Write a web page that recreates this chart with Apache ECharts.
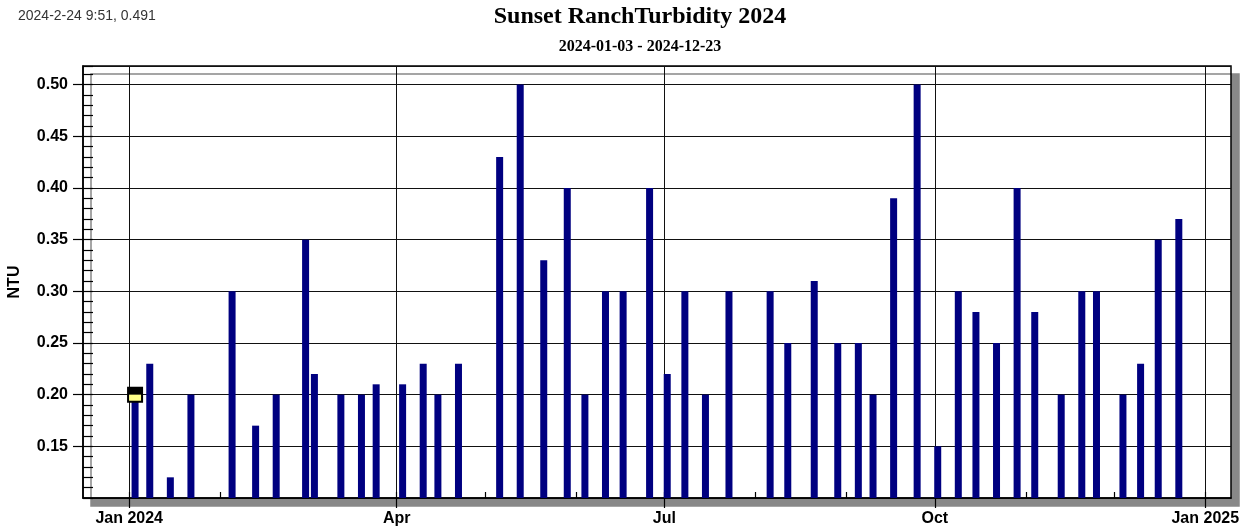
<!DOCTYPE html>
<html>
<head>
<meta charset="utf-8">
<script src="https://cdn.jsdelivr.net/npm/echarts@6/dist/echarts.min.js"></script>
<style>
html,body{margin:0;padding:0;background:#fff;}
#chart{width:1248px;height:532px;}
</style>
</head>
<body>
<div id="chart"></div>
<script>
// ---- data ----
const sampleDates = ['2024-01-03','2024-01-08','2024-01-15','2024-01-22','2024-02-05','2024-02-13','2024-02-20','2024-03-01','2024-03-04','2024-03-13','2024-03-20','2024-03-25','2024-04-03','2024-04-10','2024-04-15','2024-04-22','2024-05-06','2024-05-13','2024-05-21','2024-05-29','2024-06-04','2024-06-11','2024-06-17','2024-06-26','2024-07-02','2024-07-08','2024-07-15','2024-07-23','2024-08-06','2024-08-12','2024-08-21','2024-08-29','2024-09-05','2024-09-10','2024-09-17','2024-09-25','2024-10-02','2024-10-09','2024-10-15','2024-10-22','2024-10-29','2024-11-04','2024-11-13','2024-11-20','2024-11-25','2024-12-04','2024-12-10','2024-12-16','2024-12-23'];
const turbidity = [0.20,0.23,0.12,0.20,0.30,0.17,0.20,0.35,0.22,0.20,0.20,0.21,0.21,0.23,0.20,0.23,0.43,0.50,0.33,0.40,0.20,0.30,0.30,0.40,0.22,0.30,0.20,0.30,0.30,0.25,0.31,0.25,0.25,0.20,0.39,0.50,0.15,0.30,0.28,0.25,0.40,0.28,0.20,0.30,0.30,0.20,0.23,0.35,0.37];
const xTickDates = ['2024-01-01','2024-04-01','2024-07-01','2024-10-01','2025-01-01'];
const xTickLabels = ['Jan 2024','Apr','Jul','Oct','Jan 2025'];
const monthStarts = ['2024-01-01','2024-02-01','2024-03-01','2024-04-01','2024-05-01','2024-06-01','2024-07-01','2024-08-01','2024-09-01','2024-10-01','2024-11-01','2024-12-01','2025-01-01'];
const xMin = '2023-12-16 07:00';
const xMax = '2025-01-09 18:00';
const yMin = 0.10, yMax = 0.518, yMajor = 0.05, yMinor = 0.01;
const titleText = 'Sunset RanchTurbidity 2024';
const subTitleText = '2024-01-03 - 2024-12-23';
const cursorText = '2024-2-24 9:51, 0.491';
const yName = 'NTU';

// ---- chart ----
const chart = echarts.init(document.getElementById('chart'), null, {renderer:'canvas'});
const parse = v => +echarts.time.parse(v);
const tickTs = xTickDates.map(parse);
const monthTs = monthStarts.map(parse);
const seriesData = sampleDates.map((d, i) => [parse(d), turbidity[i]]);
const xMinTs = parse(xMin), xMaxTs = parse(xMax);
const sans = '"Liberation Sans", Arial, sans-serif';
const serif = '"Liberation Serif", "Times New Roman", serif';

const option = {
  animation: false,
  backgroundColor: '#fff',
  grid: {
    left: 83, top: 66, right: 17, bottom: 34,
    outerBoundsMode: 'none',
    show: true,
    backgroundColor: '#fff',
    borderColor: '#000',
    borderWidth: 1.5,
    shadowColor: '#888',
    shadowBlur: 0,
    shadowOffsetX: 8,
    shadowOffsetY: 8
  },
  graphic: [
    {type:'text', x:640, y:17, style:{text:titleText, font:'bold 24px ' + serif, fill:'#000', align:'center', verticalAlign:'middle'}},
    {type:'text', x:640, y:47, style:{text:subTitleText, font:'bold 16px ' + serif, fill:'#000', align:'center', verticalAlign:'middle'}},
    {type:'text', x:18, y:16, style:{text:cursorText, font:'14px ' + sans, fill:'#333', align:'left', verticalAlign:'middle'}}
  ],
  xAxis: [
    {
      type: 'value', position: 'bottom', min: xMinTs, max: xMaxTs,
      axisLine: {show: true, lineStyle: {color: '#000', width: 1.5}},
      axisTick: {show: true, inside: false, length: 10, lineStyle: {color: '#000', width: 1.2}, customValues: tickTs},
      axisLabel: {
        show: true, customValues: tickTs, margin: 13,
        color: '#000', fontSize: 16, fontWeight: 'bold', fontFamily: sans,
        formatter: function (val) {
          const idx = tickTs.indexOf(+val);
          return idx >= 0 ? xTickLabels[idx] : '';
        }
      },
      splitLine: {show: true, lineStyle: {color: '#111', width: 1}}
    },
    {
      type: 'value', position: 'bottom', min: xMinTs, max: xMaxTs,
      axisLine: {show: false},
      axisTick: {show: true, inside: true, length: 6, lineStyle: {color: '#000', width: 1.2}, customValues: monthTs},
      axisLabel: {show: false},
      splitLine: {show: false}
    }
  ],
  yAxis: [
    {
      type: 'value', position: 'left', min: yMin, max: yMax, interval: yMajor,
      name: yName, nameLocation: 'middle', nameGap: 60, nameRotate: 90,
      nameTextStyle: {color: '#000', fontSize: 16, fontWeight: 'bold', fontFamily: sans},
      axisLine: {show: true, lineStyle: {color: '#000', width: 1.5}},
      axisTick: {show: true, inside: false, length: 10, lineStyle: {color: '#000', width: 1.2}},
      axisLabel: {
        show: true, showMinLabel: false, showMaxLabel: false, margin: 15,
        color: '#000', fontSize: 16, fontWeight: 'bold', fontFamily: sans,
        formatter: v => v.toFixed(2)
      },
      splitLine: {show: true, lineStyle: {color: '#111', width: 1}}
    },
    {
      type: 'value', position: 'left', min: yMin, max: yMax, interval: yMinor,
      axisLine: {show: false},
      axisTick: {show: true, inside: true, length: 10, lineStyle: {color: '#000', width: 1.2}},
      axisLabel: {show: false},
      splitLine: {show: false}
    }
  ],
  series: [
    {
      type: 'bar', xAxisIndex: 0, yAxisIndex: 0,
      data: seriesData,
      barWidth: 7,
      itemStyle: {color: '#000080'},
      markPoint: {
        silent: true,
        label: {show: false},
        data: [
          {coord: [seriesData[0][0], turbidity[0]], symbol: 'rect', symbolSize: [14, 14], itemStyle: {color: '#ffff88', borderColor: '#000', borderWidth: 2}},
          {coord: [seriesData[0][0], turbidity[0]], symbol: 'rect', symbolSize: [14, 7], symbolOffset: [0, -3.5], itemStyle: {color: '#000'}}
        ]
      }
    }
  ]
};
chart.setOption(option);
</script>
</body>
</html>
